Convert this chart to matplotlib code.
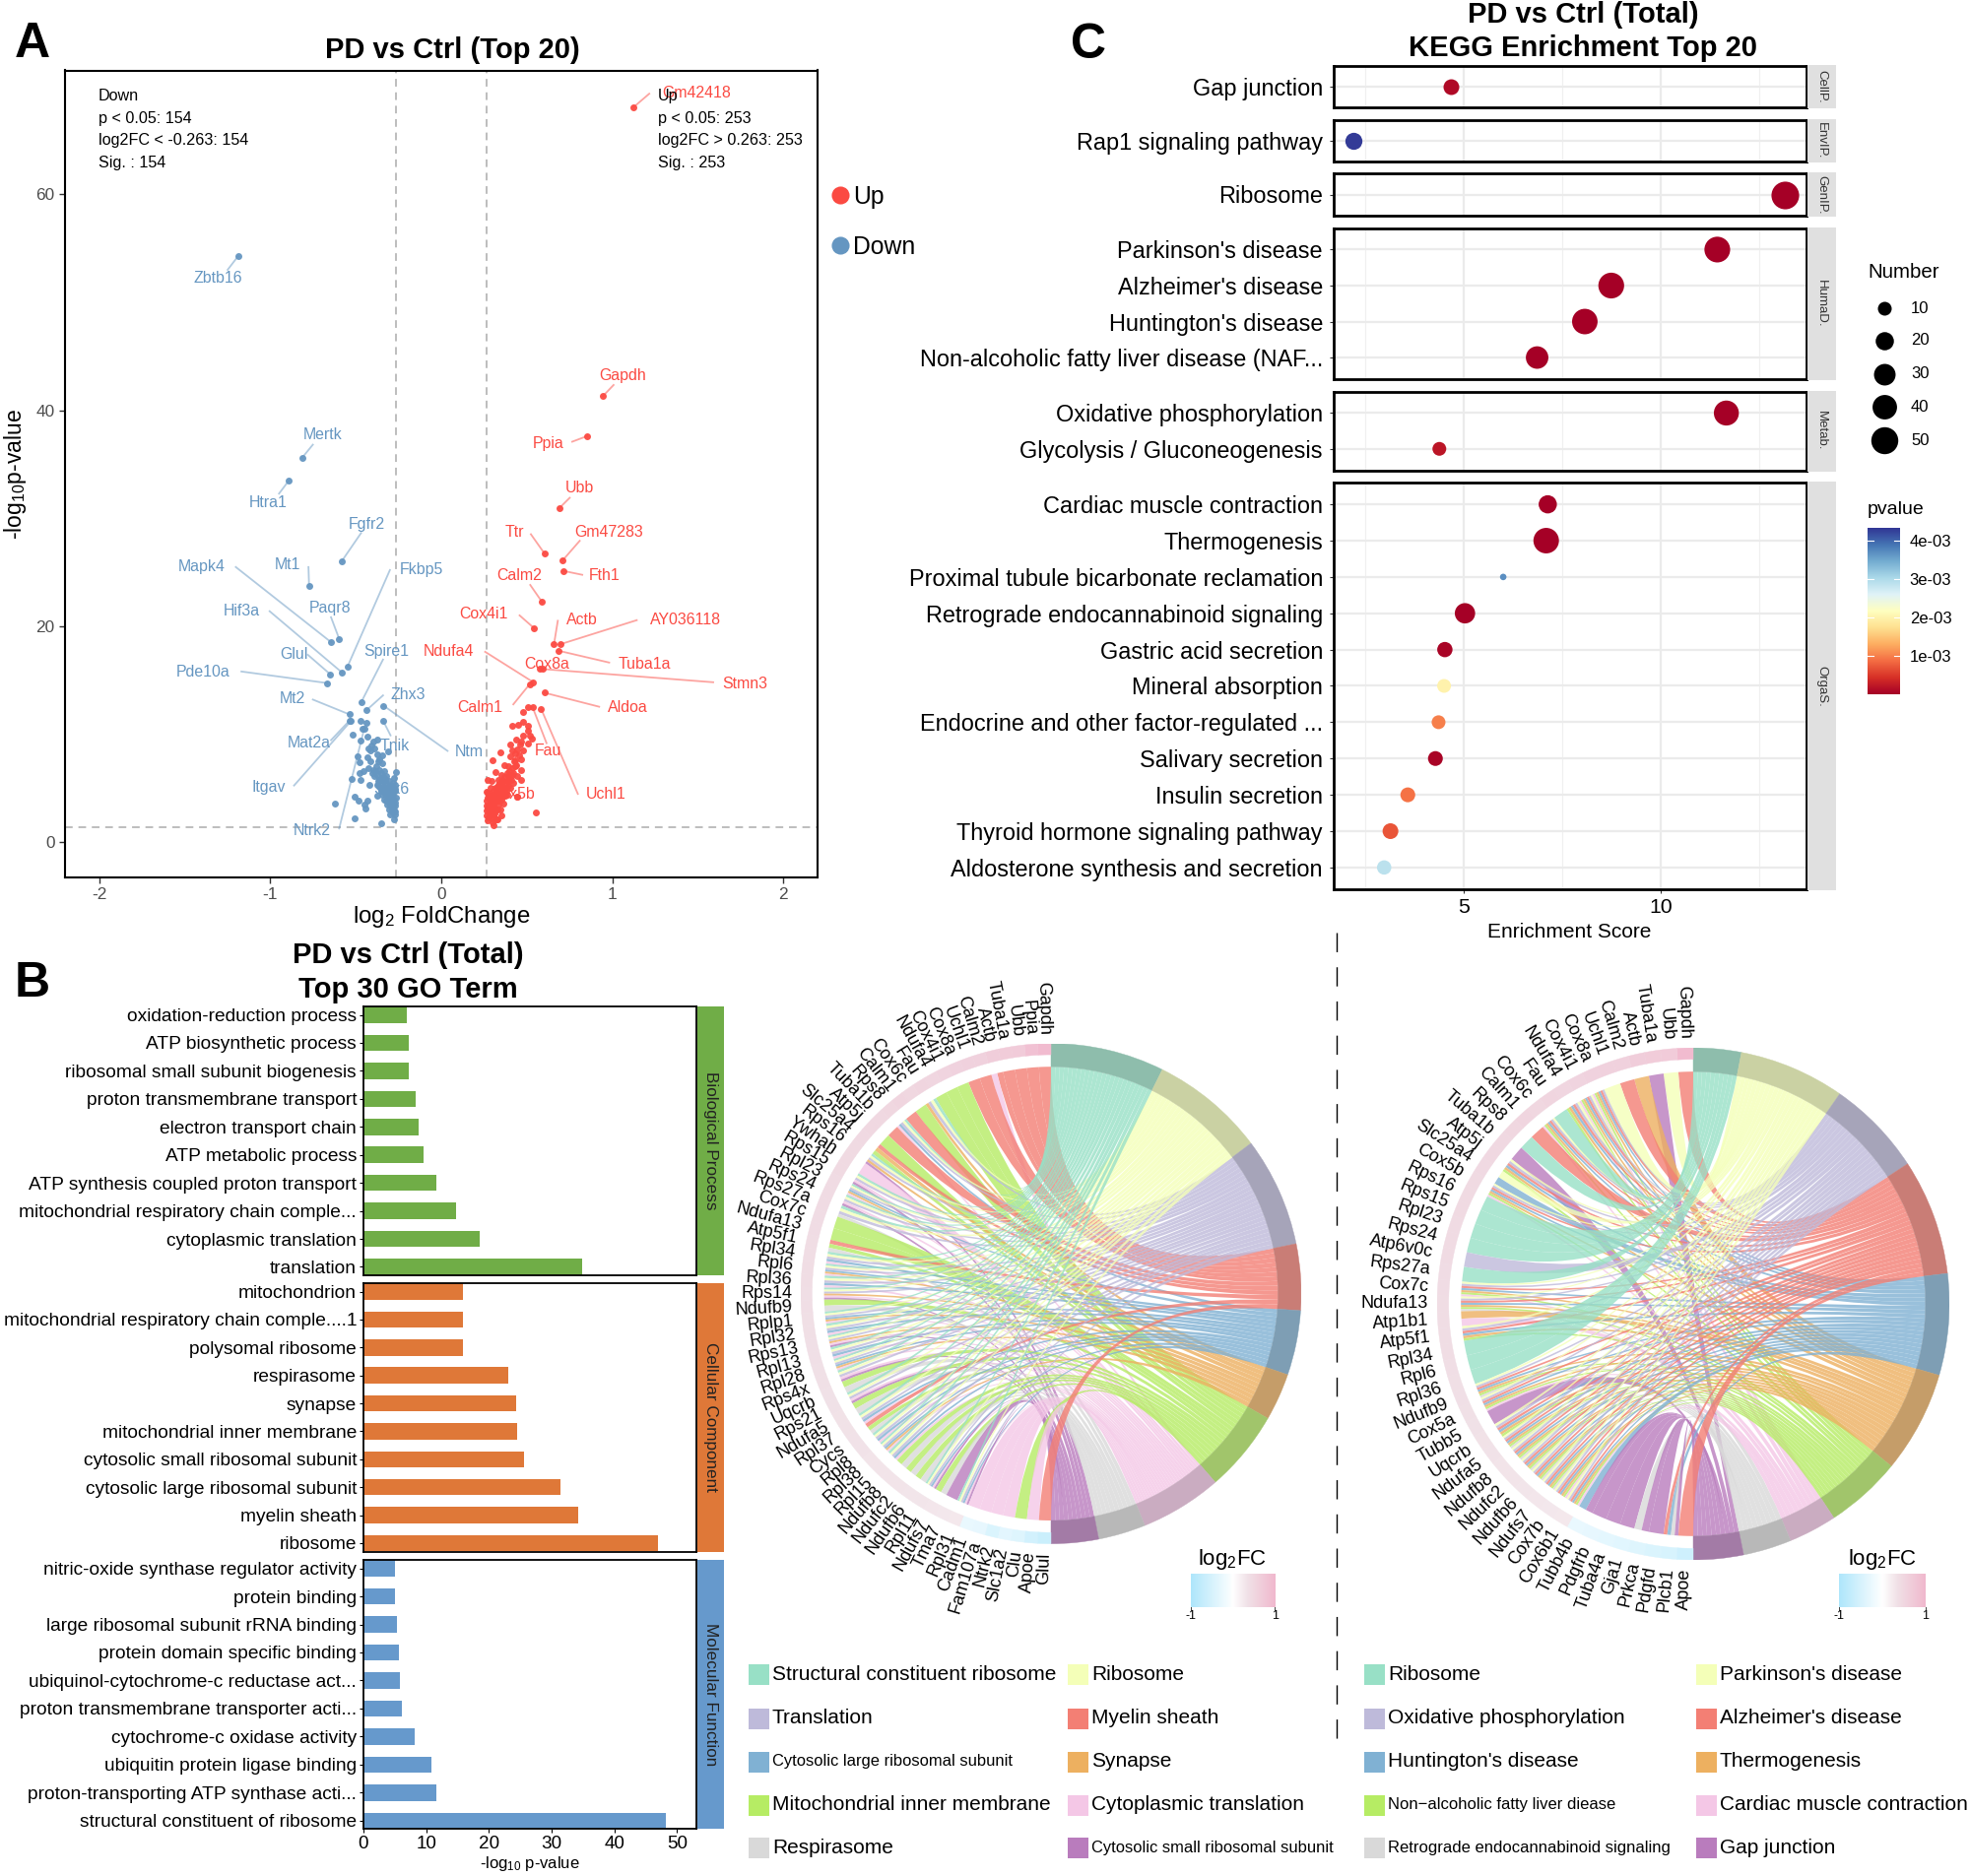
#!/usr/bin/env python3
"""
Composite figure: volcano plot (A), GO bars (B), KEGG dots (C) and two chord diagrams
"""

import numpy as np
import matplotlib
matplotlib.use("Agg")
import matplotlib.pyplot as plt
from matplotlib.colors import LinearSegmentedColormap, Normalize, to_rgb
from matplotlib.path import Path
from matplotlib.patches import PathPatch, Wedge, Rectangle

plt.rcParams['font.family'] = ['Liberation Sans', 'DejaVu Sans']
plt.rcParams['mathtext.fontset'] = 'custom'
plt.rcParams['mathtext.rm'] = 'Liberation Sans'
plt.rcParams['mathtext.default'] = 'rm'

# ---- A: volcano ----
up_x = [.477, .508, .412, .450, .479, .504, .508, .479, .517, .527, .508, .437, .402, .465, .479,
        .441, .412, .343, .301, .402, .431, .469, .368, .393, .431, .465, .316, .354, .383, .412,
        .441, .465, .268, .293, .335, .364, .393, .421, .265, .287, .316, .345, .374, .402, .297,
        .326, .354, .383, .444, .268, .293, .316, .345, .374, .265, .278, .307, .335, .364, .265,
        .287, .316, .345, .264, .282, .307, .351, .326, .268, .297, .307, .555, .326, .297, .274,
        .364, .335, .393, .412, .427, .454, .354, .307, .282, .265, .274, .30, .32, .34, .36, .38,
        .40, .33, .31, .29, .29, .33, .35, .37, .31, .28, .30, .32, .27, .29, .31, .34, .36,
        .38, .39, .41, .42, .44, .37, .35, .33, .31, .30, .28, .27, .32, .34, .36, .40, .43, .46]
up_y = [12.04, 12.44, 10.76, 10.82, 11.10, 10.70, 10.31, 9.85, 9.85, 9.55, 9.09, 9.48, 8.97, 9.24, 8.48,
        8.57, 8.48, 8.24, 7.54, 7.87, 7.57, 7.63, 7.11, 6.96, 6.96, 6.65, 6.44, 6.20, 6.35, 6.20,
        6.04, 5.74, 5.74, 5.65, 5.74, 5.59, 5.59, 5.43, 4.61, 4.98, 4.98, 5.13, 4.98, 4.98, 4.37,
        4.52, 4.52, 4.37, 4.16, 4.07, 3.91, 3.91, 4.07, 4.22, 3.37, 3.46, 3.30, 3.46, 3.52, 2.85,
        2.85, 2.85, 3.00, 2.39, 2.30, 2.39, 2.39, 2.09, 1.93, 1.78, 1.48, 2.70, 3.76, 3.15, 3.00,
        4.67, 5.28, 6.04, 6.80, 7.41, 8.02, 5.28, 4.67, 4.37, 3.76, 2.24, 3.60, 4.20, 4.60, 5.00, 5.40,
        5.90, 3.00, 2.60, 2.60, 3.50, 4.40, 3.90, 4.80, 3.10, 2.70, 2.20, 2.10, 3.10, 3.30, 3.70, 3.80, 4.30,
        4.70, 5.20, 5.70, 6.40, 7.10, 6.00, 5.60, 5.10, 4.10, 4.10, 4.20, 4.50, 4.60, 4.00, 4.90, 6.50, 8.20, 9.00]

down_x = [-.473, -.440, -.463, -.519, -.471, -.433, -.396, -.373, -.408, -.429, -.392, -.412, -.310, -.343,
          -.373, -.488, -.431, -.477, -.415, -.369, -.345, -.427, -.454, -.479, -.400, -.364, -.335, -.266,
          -.523, -.473, -.421, -.392, -.373, -.350, -.325, -.306, -.277, -.373, -.345, -.316, -.287, -.268,
          -.373, -.345, -.316, -.287, -.268, -.335, -.306, -.277, -.263, -.507, -.482, -.431, -.450, -.446,
          -.622, -.316, -.287, -.268, -.306, -.277, -.297, -.268, -.279, -.507, -.352, -.364, -.383, -.402,
          -.354, -.335, -.297, -.325, -.354, -.277, -.306, -.325, -.293,
          -.37, -.36, -.35, -.34, -.33, -.32, -.31, -.30, -.29, -.28, -.27, -.31, -.30, -.29, -.28, -.27,
          -.34, -.33, -.32, -.30, -.29, -.28, -.27, -.38, -.36]
down_y = [11.22, 11.01, 10.43, 9.88, 9.33, 9.70, 9.24, 9.45, 8.87, 8.63, 8.63, 8.48, 8.39, 7.96,
          8.08, 7.90, 7.78, 7.32, 7.41, 7.47, 7.26, 6.80, 6.56, 6.35, 6.65, 6.65, 6.50, 6.41,
          5.83, 5.68, 5.22, 6.04, 6.20, 5.89, 6.04, 5.59, 5.89, 5.28, 5.28, 4.98, 5.13, 5.28,
          4.22, 4.37, 4.22, 4.37, 4.67, 3.91, 3.76, 3.91, 4.07, 4.16, 3.82, 3.82, 3.46, 3.09,
          3.55, 3.46, 3.30, 3.30, 3.00, 2.91, 2.54, 2.48, 2.06, 2.15, 1.72, 5.74, 6.50, 6.35,
          6.35, 5.59, 4.67, 4.52, 4.83, 4.67, 4.22, 3.76, 4.07,
          5.60, 5.10, 4.70, 5.00, 4.40, 5.40, 5.10, 3.90, 4.50, 5.40, 4.90, 4.60, 3.40, 3.70, 3.20, 3.60,
          6.00, 5.80, 4.60, 5.00, 3.00, 2.70, 2.80, 7.00, 7.60]

up_names = ['Gm42418', 'Gapdh', 'Ppia', 'Ubb', 'Ttr', 'Gm47283', 'Fth1', 'Calm2', 'Cox4i1', 'Actb',
            'AY036118', 'Tuba1a', 'Ndufa4', 'Cox8a', 'Stmn3', 'Aldoa', 'Calm1', 'Fau', 'Uchl1', 'Cox5b']
up_lab_x = [1.125, .945, .853, .689, .604, .711, .714, .590, .542, .659,
            .696, .685, .536, .575, .593, .604, .517, .533, .584, .444]
up_lab_y = [68.1, 41.3, 37.6, 30.9, 26.7, 26.1, 25.1, 22.2, 19.8, 18.3,
            18.3, 17.7, 14.8, 16.0, 16.0, 13.8, 14.6, 12.5, 12.3, 4.2]
down_names = ['Zbtb16', 'Mertk', 'Htra1', 'Fgfr2', 'Mt1', 'Paqr8', 'Mapk4', 'Fkbp5', 'Hif3a', 'Glul',
              'Pde10a', 'Spire1', 'Zhx3', 'Ntm', 'Mt2', 'Mat2a', 'Itgav', 'Tnik', 'Ntrk2', 'Sox6']
down_lab_x = [-1.187, -.813, -.890, -.582, -.773, -.597, -.645, -.549, -.582, -.648,
              -.667, -.469, -.436, -.337, -.538, -.538, -.527, -.340, -.450, -.29]
down_lab_y = [54.3, 35.6, 33.5, 26.0, 23.7, 18.8, 18.5, 16.2, 15.7, 15.5,
              14.7, 12.9, 12.2, 12.6, 11.8, 11.2, 11.2, 11.2, 10.5, 4.5]

text_crop = {'Gm42418': (1110, 156, 1035, 157), 'Gapdh': (993, 629, 978, 645), 'Ppia': (873, 743, 912, 740),
             'Ubb': (924, 817, 908, 834), 'Ttr': (820, 892, 846, 895), 'Gm47283': (970, 892, 924, 906),
             'Fth1': (964, 965, 928, 963), 'Calm2': (827, 965, 845, 980), 'Cox4i1': (771, 1029, 828, 1031),
             'Actb': (927, 1039, 889, 1040), 'AY036118': (1093, 1039, 1015, 1039), 'Tuba1a': (1028, 1113, 971, 1110),
             'Ndufa4': (715, 1092, 773, 1092), 'Cox8a': (871, 1113, 868, 1120), 'Stmn3': (1187, 1146, 1137, 1143),
             'Aldoa': (1001, 1185, 955, 1184), 'Calm1': (765, 1185, 818, 1180), 'Fau': (874, 1258, 871, 1245),
             'Uchl1': (966, 1331, 921, 1330), 'Cox5b': (816, 1331, 820, 1333),
             'Zbtb16': (346, 466, 362, 452), 'Mertk': (514, 729, 498, 745), 'Htra1': (426, 843, 444, 827),
             'Fgfr2': (584, 878, 575, 893), 'Mt1': (458, 946, 491, 950), 'Paqr8': (525, 1019, 527, 1034),
             'Mapk4': (321, 950, 375, 950), 'Fkbp5': (671, 955, 621, 955), 'Hif3a': (385, 1024, 429, 1024),
             'Glul': (468, 1097, 490, 1097), 'Pde10a': (323, 1126, 384, 1125), 'Spire1': (615, 1091, 610, 1105),
             'Zhx3': (650, 1164, 610, 1165), 'Ntm': (747, 1259, 713, 1258), 'Mt2': (465, 1171, 498, 1172),
             'Mat2a': (492, 1245, 527, 1240), 'Itgav': (428, 1319, 468, 1316), 'Tnik': (628, 1249, 622, 1232),
             'Ntrk2': (496, 1392, 540, 1388), 'Sox6': (624, 1323, 620, 1320)}

# ---- B: GO terms, top to bottom ----
bp_terms = ['oxidation-reduction process', 'ATP biosynthetic process', 'ribosomal small subunit biogenesis',
            'proton transmembrane transport', 'electron transport chain', 'ATP metabolic process',
            'ATP synthesis coupled proton transport', 'mitochondrial respiratory chain comple...',
            'cytoplasmic translation', 'translation']
bp_vals = [6.9, 7.2, 7.3, 8.3, 8.75, 9.6, 11.6, 14.7, 18.5, 34.9]
cc_terms = ['mitochondrion', 'mitochondrial respiratory chain comple....1', 'polysomal ribosome', 'respirasome',
            'synapse', 'mitochondrial inner membrane', 'cytosolic small ribosomal subunit',
            'cytosolic large ribosomal subunit', 'myelin sheath', 'ribosome']
cc_vals = [15.8, 15.8, 15.9, 23.1, 24.3, 24.5, 25.6, 31.4, 34.3, 46.9]
mf_terms = ['nitric-oxide synthase regulator activity', 'protein binding', 'large ribosomal subunit rRNA binding',
            'protein domain specific binding', 'ubiquinol-cytochrome-c reductase act...',
            'proton transmembrane transporter acti...', 'cytochrome-c oxidase activity',
            'ubiquitin protein ligase binding', 'proton-transporting ATP synthase acti...',
            'structural constituent of ribosome']
mf_vals = [5.1, 5.1, 5.4, 5.6, 5.8, 6.2, 8.1, 10.8, 11.6, 48.3]

# ---- C: KEGG, one small table per facet ----
cell_terms = ['Gap junction']
cell_score = [4.67]
cell_num = [14]
cell_p = [0.0001]
env_terms = ['Rap1 signaling pathway']
env_score = [2.21]
env_num = [17]
env_p = [0.0043]
gen_terms = ['Ribosome']
gen_score = [13.15]
gen_num = [53]
gen_p = [0.0]
hum_terms = ["Parkinson's disease", "Alzheimer's disease", "Huntington's disease",
             'Non-alcoholic fatty liver disease (NAF...']
hum_score = [11.43, 8.74, 8.07, 6.86]
hum_num = [45, 45, 44, 33]
hum_p = [0.0, 0.0, 0.0, 0.0]
met_terms = ['Oxidative phosphorylation', 'Glycolysis / Gluconeogenesis']
met_score = [11.66, 4.38]
met_num = [42, 10]
met_p = [0.0, 0.0002]
org_terms = ['Cardiac muscle contraction', 'Thermogenesis', 'Proximal tubule bicarbonate reclamation',
             'Retrograde endocannabinoid signaling', 'Gastric acid secretion', 'Mineral absorption',
             'Endocrine and other factor-regulated ...', 'Salivary secretion', 'Insulin secretion',
             'Thyroid hormone signaling pathway', 'Aldosterone synthesis and secretion']
org_score = [7.13, 7.09, 6.0, 5.03, 4.52, 4.5, 4.36, 4.28, 3.58, 3.14, 2.98]
org_num = [20, 44, 1, 26, 13, 10, 10, 12, 12, 14, 11]
org_p = [0.0, 0.0, 0.0037, 0.0, 0.00005, 0.002, 0.001, 0.00005, 0.0009, 0.0007, 0.0029]

# ---- chord diagrams: term letters a..j follow the legend order ----
genes_go = ['Gapdh', 'Ppia', 'Ubb', 'Tuba1a', 'Actb', 'Calm2', 'Uchl1', 'Cox8a', 'Cox4i1', 'Ndufa4', 'Fau', 'Cox6c',
            'Calm1', 'Rps8', 'Tuba1b', 'Atp5j', 'Slc25a4', 'Rps16', 'Ywhah', 'Rps15', 'Rpl23', 'Rps24', 'Rps27a',
            'Cox7c', 'Ndufa13', 'Atp5f1', 'Rpl34', 'Rpl6', 'Rpl36', 'Rps14', 'Ndufb9', 'Rplp1', 'Rpl32', 'Rps13',
            'Rpl13', 'Rpl28', 'Rps4x', 'Uqcrb', 'Rps21', 'Ndufa5', 'Rpl37', 'Cycs', 'Rpl8', 'Rpl38', 'Rpl15',
            'Ndufb8', 'Ndufc2', 'Ndufb6', 'Rpl11', 'Ndufs7', 'Tma7', 'Rpl31', 'Cadm1', 'Fam107a', 'Ntrk2', 'Slc1a2',
            'Clu', 'Apoe', 'Glul']
sets_go = ['d', 'd', 'd', 'd', 'dh', 'd', 'd', 'g', 'g', 'g', 'abcf', 'g',
           'd', 'abceh', 'd', 'g', 'dgf', 'abcfj', 'h', 'abchj', 'abcefh', 'abchj', 'abci',
           'g', 'g', 'dgi', 'abceh', 'abcefh', 'abceh', 'abcfhj', 'gi', 'abcefh', 'abceh', 'abcfhj',
           'abceh', 'abcefh', 'abchj', 'gi', 'abchj', 'gi', 'abceh', 'dgi', 'abceh', 'abcefh', 'abceh',
           'gi', 'gi', 'gi', 'abcehj', 'gi', 'j', 'abcehj', 'h', 'h', 'h', 'h',
           'g', 'h', 'd']
fc_go = [.95, .85, .69, .685, .66, .59, .586, .575, .54, .52, .53, .5, .53, .5, .48, .48, .47, .46, .45, .45, .44,
         .43, .43, .42, .42, .41, .41, .4, .4, .39, .39, .38, .38, .37, .37, .36, .36, .35, .35, .34, .34, .33, .33,
         .32, .32, .31, .31, .3, .3, .29, .28, .27, -.27, -.3, -.45, -.35, -.4, -.55, -.65]
spans_go = [26.4, 26.6, 25.4, 15.4, 15.0, 11.0, 19.0, 19.0, 11.0, 11.0]
names_go = ['Structural constituent ribosome', 'Ribosome', 'Translation', 'Myelin sheath',
            'Cytosolic large ribosomal subunit', 'Synapse', 'Mitochondrial inner membrane',
            'Cytoplasmic translation', 'Respirasome', 'Cytosolic small ribosomal subunit']

genes_kegg = ['Gapdh', 'Ubb', 'Tuba1a', 'Actb', 'Calm2', 'Uchl1', 'Cox8a', 'Cox4i1', 'Ndufa4', 'Fau', 'Cox6c', 'Calm1',
              'Rps8', 'Tuba1b', 'Atp5j', 'Slc25a4', 'Cox5b', 'Rps16', 'Rps15', 'Rpl23', 'Rps24', 'Atp6v0c', 'Rps27a',
              'Cox7c', 'Ndufa13', 'Atp1b1', 'Atp5f1', 'Rpl34', 'Rpl6', 'Rpl36', 'Ndufb9', 'Cox5a', 'Tubb5', 'Uqcrb',
              'Ndufa5', 'Ndufb8', 'Ndufc2', 'Ndufb6', 'Ndufs7', 'Cox7b', 'Cox6b1', 'Tubb4b', 'Pdgfrb', 'Tuba4a',
              'Gja1', 'Prkca', 'Pdgfd', 'Plcb1', 'Apoe']
sets_kegg = ['d', 'b', 'j', 'f', 'd', 'b', 'bcdefgh', 'bcdefgh', 'bcdefg', 'a', 'bcdefgh', 'd',
             'a', 'j', 'bcdefg', 'be', 'bcdefgh', 'a', 'a', 'a', 'a', 'c', 'a',
             'bcdefgh', 'bcdefgi', 'fh', 'bcdefg', 'a', 'a', 'a', 'bcdefgi', 'bcdefgh', 'j', 'bcdefg',
             'bcdefgi', 'bcdefgi', 'bcdefgi', 'bcdefgi', 'bcdefgi', 'bcdefgh', 'bcdefgh', 'ej', 'j', 'j',
             'j', 'ij', 'j', 'deij', 'd']
fc_kegg = [.95, .69, .685, .66, .59, .586, .575, .54, .52, .53, .5, .53, .5, .48, .48, .47, .46, .45, .45, .44, .43,
           .43, .42, .42, .41, .41, .4, .4, .39, .38, .37, .36, .35, .34, .33, .32, .31, .3, .29, .28, .27, -.27, -.3,
           -.33, -.36, -.4, -.45, -.5, -.6]
spans_kegg = [10.9, 24.1, 22.0, 26.4, 23.1, 23.2, 17.4, 11.0, 11.0, 11.4]
names_kegg = ['Ribosome', "Parkinson's disease", 'Oxidative phosphorylation', "Alzheimer's disease",
              "Huntington's disease", 'Thermogenesis', 'Non\u2212alcoholic fatty liver diease',
              'Cardiac muscle contraction', 'Retrograde endocannabinoid signaling', 'Gap junction']

term_colors = ['#98E0C6', '#F4FFB8', '#BEBADA', '#F37F74', '#80B1D3', '#EDB060', '#B6EC64', '#F4C7E6', '#D9D9D9', '#B97CBD']

UP = '#FB4A42'
DOWN = '#6596C1'
W, H = 2000, 1905
fig = plt.figure(figsize=(W / 100, H / 100), dpi=100)


def ax_px(left, top, right, bottom):
    """Axes placed by picture pixels"""
    return fig.add_axes([left / W, 1 - bottom / H, (right - left) / W, (bottom - top) / H])


# overlay in picture pixels for panel letters, titles and legends
ov = fig.add_axes([0, 0, 1, 1], zorder=10)
ov.set_xlim(0, W)
ov.set_ylim(H, 0)
ov.axis('off')


def label(x, y, s, size, **kw):
    kw.setdefault('ha', 'center')
    kw.setdefault('va', 'center')
    ov.text(x, y, s, fontsize=size, **kw)


for x, y, s in [(33, 45, 'A'), (33, 999, 'B'), (1105, 46, 'C')]:
    label(x, y, s, 36, fontweight='bold')
for x, y, s in [(459, 51, 'PD vs Ctrl (Top 20)'), (414, 970, 'PD vs Ctrl (Total)'), (414, 1005, 'Top 30 GO Term'),
                (1607, 15, 'PD vs Ctrl (Total)'), (1607, 49, 'KEGG Enrichment Top 20')]:
    label(x, y, s, 21, fontweight='bold')

# ---------- panel A ----------
ax = ax_px(66, 71.5, 830, 891)
ax.set_xlim(-2.2, 2.2)
ax.set_ylim(-3.32, 71.5)
for v in (-0.263, 0.263):
    ax.axvline(v, color='#BDBDBD', ls=(0, (4, 3)), lw=1.4, zorder=1)
ax.axhline(1.3, color='#BDBDBD', ls=(0, (4, 3)), lw=1.4, zorder=1)
ax.scatter(up_x + up_lab_x, up_y + up_lab_y, s=25, color=UP, alpha=0.95, lw=0, zorder=4)
ax.scatter(down_x + down_lab_x, down_y + down_lab_y, s=25, color=DOWN, alpha=0.95, lw=0, zorder=4)


def crop_to_data(cx, cy):
    return (cx - 703) / 273, (1410 - cy) / 18.07


for names, xs, ys, col in [(up_names, up_lab_x, up_lab_y, UP), (down_names, down_lab_x, down_lab_y, DOWN)]:
    for name, px_, py_ in zip(names, xs, ys):
        tx, ty, ex, ey = text_crop[name]
        lx, ly = crop_to_data(tx, ty)
        ax.text(lx, ly, name, color=col, fontsize=11.4, ha='center', va='center', zorder=2)
        ex, ey = crop_to_data(ex, ey)
        ax.plot([px_, ex], [py_, ey], color=col, alpha=0.5, lw=1.3, zorder=3)

ax.set_xticks([-2, -1, 0, 1, 2], ['-2', '-1', '0', '1', '2'])
ax.set_yticks([0, 20, 40, 60])
ax.tick_params(labelsize=12.4, labelcolor='#4D4D4D', color='#333333', length=4, width=1)
for sp in ax.spines.values():
    sp.set_linewidth(1.5)
label(448, 931, r'log$_2$ FoldChange', 17.3)
label(16, 482, r'-log$_{10}$p-value', 16.5, rotation=90)
for i, s in enumerate(['Down', 'p < 0.05: 154', 'log2FC < -0.263: 154', 'Sig. : 154']):
    label(100, 97.6 + i * 22.6, s, 11.6, ha='left')
for i, s in enumerate(['Up', 'p < 0.05: 253', 'log2FC > 0.263: 253', 'Sig. : 253']):
    label(668, 97.6 + i * 22.6, s, 11.6, ha='left')
for y, s, col in [(198, 'Up', UP), (249, 'Down', DOWN)]:
    ov.scatter([853], [y], s=170, color=col, lw=0)
    label(866, y + 1.5, s, 17.8, ha='left')

# ---------- panel B ----------
go_panels = [(bp_terms, bp_vals, '#70AD47', 'Biological Process', 1022, 1295),
             (cc_terms, cc_vals, '#DF7838', 'Cellular Component', 1303, 1575.5),
             (mf_terms, mf_vals, '#6699CC', 'Molecular Function', 1584, 1857.4)]
for terms, vals, col, name, top, bottom in go_panels:
    ax = ax_px(369, top, 707, bottom)
    pos = np.arange(len(terms))
    ax.barh(pos, vals, height=0.58, color=col)
    ax.set_xlim(0, 53.1)
    ax.set_ylim(9.3, -0.3)
    ax.set_yticks(pos, terms)
    ax.tick_params(axis='y', labelsize=13.75, length=3, pad=2)
    for sp in ax.spines.values():
        sp.set_linewidth(1.3)
    if name == 'Molecular Function':
        ax.set_xticks([0, 10, 20, 30, 40, 50])
        ax.tick_params(axis='x', labelsize=13.6, length=3, pad=2)
    else:
        ax.set_xticks([])
    ov.add_patch(Rectangle((708, top), 27, bottom - top, color=col, lw=0))
    label(721.5, (top + bottom) / 2, name, 12.3, rotation=270, color='#222222')
label(538, 1893, r'-log$_{10}$ p-value', 12)

# ---------- panel C ----------
pnorm = Normalize(0, 4.34e-3)
pcmap = plt.get_cmap('RdYlBu')


def diameter(n):
    return np.array((5 + 5.37 * np.sqrt(n)) / 1.568 * 0.72) ** 2


kegg_panels = [(cell_terms, cell_score, cell_num, cell_p, 'CellP.', 66.7, 109),
               (env_terms, env_score, env_num, env_p, 'EnvIP.', 122, 164),
               (gen_terms, gen_score, gen_num, gen_p, 'GenIP.', 176, 219),
               (hum_terms, hum_score, hum_num, hum_p, 'HumaD.', 231.5, 385),
               (met_terms, met_score, met_num, met_p, 'Metab.', 397.6, 477.6),
               (org_terms, org_score, org_num, org_p, 'OrgaS.', 490, 903)]
for terms, score, num, pv, name, top, bottom in kegg_panels:
    ax = ax_px(1354, top, 1833.5, bottom)
    pos = np.arange(len(terms))
    ax.set_axisbelow(True)
    for v in (2.5, 7.5, 12.5):
        ax.axvline(v, color='#F0F0F0', lw=0.9, zorder=0)
    for v in (5, 10):
        ax.axvline(v, color='#EBEBEB', lw=1.6, zorder=0)
    for v in pos:
        ax.axhline(v, color='#EBEBEB', lw=1.6, zorder=0)
    ax.scatter(score, pos, s=diameter(np.array(num)), c=pv, cmap=pcmap, norm=pnorm, lw=0, zorder=3)
    ax.set_xlim(1.7, 13.68)
    ax.set_ylim(len(terms) - 0.4, -0.6)
    ax.set_yticks(pos, terms)
    ax.tick_params(axis='y', labelsize=16.9, length=3, pad=5, color='#333333')
    for sp in ax.spines.values():
        sp.set_linewidth(2)
    if name == 'OrgaS.':
        ax.set_xticks([5, 10])
        ax.tick_params(axis='x', labelsize=15.3, length=3, color='#333333')
    else:
        ax.set_xticks([])
    ov.add_patch(Rectangle((1834.5, top - 1), 29.5, bottom - top + 2, color='#E0E0E0', lw=0))
    label(1849, (top + bottom) / 2, name, 9.5, rotation=270, color='#333333')
label(1593, 946, 'Enrichment Score', 15)

label(1896, 276, 'Number', 14.7, ha='left')
for n, y in zip([10, 20, 30, 40, 50], [313, 346, 380, 413, 447]):
    ov.scatter([1913], [y], s=diameter(n), color='black', lw=0)
    label(1940, y, str(n), 12, ha='left')
label(1896, 517, 'pvalue', 14, ha='left')
cb = ax_px(1896, 536, 1929, 705)
cb.imshow(np.linspace(4.34e-3, 0, 256)[:, None], aspect='auto', cmap=pcmap, norm=pnorm,
          extent=[0, 1, 0, 4.34e-3])
cb.set_xticks([])
cb.yaxis.tick_right()
ctk = [1e-3, 2e-3, 3e-3, 4e-3]
cb.set_yticks(ctk, ['1e-03', '2e-03', '3e-03', '4e-03'])
cb.tick_params(axis='y', labelsize=12, length=0, pad=7)
for v in ctk:
    cb.plot([0, 0.18], [v, v], color='white', lw=0.8)
    cb.plot([0.82, 1], [v, v], color='white', lw=0.8)
cb.set_xlim(0, 1)
for sp in cb.spines.values():
    sp.set_visible(False)

# ---------- chords ----------
fc_cmap = LinearSegmentedColormap.from_list('fc', [(0, '#AEE6FB'), (0.5, '#FFFFFF'), (0.68, '#F0E0E6'), (1, '#F1B8CD')])
fc_norm = Normalize(-1, 1)


def rim_point(theta, r, side):
    t = np.radians(theta)
    return side * r * np.sin(t), r * np.cos(t)


def arc(t0, t1, r, side):
    return [rim_point(t, r, side) for t in np.linspace(t0, t1, 8)]


def draw_chord(cx, cy, radius, genes, sets, fc, spans):
    ax = ax_px(cx - radius, cy - radius, cx + radius, cy + radius)
    ax.set_xlim(-1, 1)
    ax.set_ylim(-1, 1)
    ax.axis('off')
    r_in = 0.907
    letters = 'abcdefghij'
    step = 180 / len(genes)
    edges = np.concatenate([[0], np.cumsum(spans)])
    edges = edges * 180 / edges[-1]
    members = {c: [i for i, s in enumerate(sets) if c in s] for c in letters}
    for i, s in enumerate(sets):
        parts = sorted(s)
        for j, c in enumerate(parts):
            k = letters.index(c)
            g0 = step * (i + j / len(parts))
            g1 = step * (i + (j + 1) / len(parts))
            n = len(members[c])
            o = members[c].index(i)
            t0 = edges[k] + (edges[k + 1] - edges[k]) * o / n
            t1 = edges[k] + (edges[k + 1] - edges[k]) * (o + 1) / n
            a = arc(t0, t1, r_in, 1)
            b = arc(g1, g0, r_in, -1)
            verts = a + [(0, 0), b[0]] + b[1:] + [(0, 0), a[0]]
            codes = [Path.MOVETO] + [Path.LINETO] * (len(a) - 1) + [Path.CURVE3, Path.CURVE3] + \
                [Path.LINETO] * (len(b) - 1) + [Path.CURVE3, Path.CURVE3]
            ax.add_patch(PathPatch(Path(verts, codes), facecolor=term_colors[k], edgecolor='none',
                                   alpha=0.8, zorder=2))
    for k, col in enumerate(term_colors):
        ring = tuple(0.82 * (0.8 * v + 0.2) for v in to_rgb(col))
        ax.add_patch(Wedge((0, 0), 1.0, 90 - edges[k + 1], 90 - edges[k], width=1 - r_in, color=ring, lw=0.3, zorder=3))
    for i, name in enumerate(genes):
        col = fc_cmap(fc_norm(fc[i]))
        ax.add_patch(Wedge((0, 0), 1.0, 90 + step * i, 90 + step * (i + 1), width=0.045, color=col, lw=0.3, zorder=3))
        mid = step * (i + 0.5)
        x, y = rim_point(mid, 1.035, -1)
        ax.text(x, y, name, fontsize=13, ha='right', va='center', rotation=(270 + mid) % 360,
                rotation_mode='anchor', clip_on=False, zorder=4)


draw_chord(1067, 1313.6, 254, genes_go, sets_go, fc_go, spans_go)
draw_chord(1719, 1324, 260, genes_kegg, sets_kegg, fc_kegg, spans_kegg)

for left, right in [(1208.6, 1294.3), (1867, 1955)]:
    fb = ax_px(left, 1597.5, right, 1632.5)
    fb.imshow(np.linspace(-1, 1, 256)[None, :], aspect='auto', cmap=fc_cmap, norm=fc_norm)
    fb.axis('off')
    label((left + right) / 2, 1583, r'log$_2$FC', 16)
    label(left, 1641, '-1', 9)
    label(right, 1641, '1', 9)
    ov.plot([left, left], [1632, 1635], color='#444444', lw=0.7)
    ov.plot([right, right], [1632, 1635], color='#444444', lw=0.7)

# separator between the two diagrams
ov.plot([1356.5, 1356.5], [947, 1772], color='black', lw=1, ls=(0, (14, 11)))

# ---------- chord legends ----------
row_y = [1700, 1745, 1789, 1833, 1876.5]
small_legend = {'Cytosolic large ribosomal subunit': 11.9, 'Cytosolic small ribosomal subunit': 11.85,
                'Non\u2212alcoholic fatty liver diease': 11.95, 'Retrograde endocannabinoid signaling': 12}
for names, col_x in [(names_go, (760, 1084)), (names_kegg, (1385, 1722))]:
    for i, name in enumerate(names):
        x = col_x[i % 2]
        y = row_y[i // 2]
        ov.add_patch(Rectangle((x, y - 10.5), 20.5, 21, color=term_colors[i], lw=0))
        label(x + 24, y, name, small_legend.get(name, 15), ha='left')

plt.savefig('out.png', dpi=100)
plt.close()
